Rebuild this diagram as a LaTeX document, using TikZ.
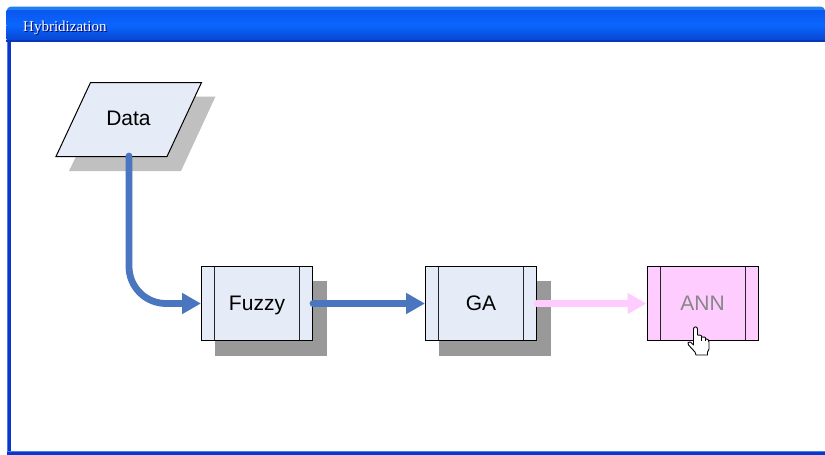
\documentclass[tikz,border=0pt]{standalone}
\usepackage{fontspec}
\setmainfont{Liberation Sans}
\newfontfamily\titlefont{Liberation Serif}
\usetikzlibrary{arrows.meta}
\definecolor{boxfill}{HTML}{E6ECF7}
\definecolor{annfill}{HTML}{FFCCFF}
\definecolor{linkblue}{HTML}{4A76BF}
\definecolor{linkpink}{HTML}{FFCCFF}
\definecolor{shadedark}{HTML}{999999}
\definecolor{shadelight}{HTML}{C0C0C0}
\definecolor{barstrip}{HTML}{2080F0}
\definecolor{bartop}{HTML}{0A58EE}
\definecolor{barmid}{HTML}{0A66FF}
\definecolor{barlow}{HTML}{0848D4}
\definecolor{baredge}{HTML}{0838B8}
\definecolor{frameblue}{HTML}{0A36CC}
\definecolor{frameedge}{HTML}{4A7CF0}
\tikzset{
  x=1pt,y=-1pt,
  procbox/.style={draw=black,line width=1pt,fill=#1,minimum width=111pt,minimum height=74pt,inner sep=0pt,
    text height=15pt,text depth=2pt,
    font=\fontsize{21}{24}\selectfont,
    path picture={
      \draw[line width=1pt,black!85]
        ([xshift=13pt]path picture bounding box.north west)--([xshift=13pt]path picture bounding box.south west)
        ([xshift=-13pt]path picture bounding box.north east)--([xshift=-13pt]path picture bounding box.south east);}},
  boxshadow/.style={fill=shadedark,draw=none},
  link/.style={line width=6.8pt,#1,line cap=round,-{Triangle[length=19pt,width=20pt]}},
  handline/.style={draw=black,line width=.9pt,line join=round}
}
\begin{document}
\begin{tikzpicture}
\useasboundingbox (0,0) rectangle (825,455);
\fill[white] (0,0) rectangle (825,455);
% window frame
\fill[frameblue] (6.7,40) rectangle (10.8,455);
\fill[frameedge] (6.7,40) rectangle (7.5,455);
\fill[frameblue] (6.7,451) rectangle (825,455);
\fill[frameedge] (7,451) rectangle (825,451.6);
% title bar
\fill[barstrip,rounded corners=4pt] (6.7,20) -- (6.7,6.7) -- (825,6.7) -- (825,20) -- cycle;
\fill[top color=bartop,bottom color=barmid] (6.7,10.5) rectangle (825,25);
\fill[top color=barmid,bottom color=barlow] (6.7,25) rectangle (825,39.5);
\fill[baredge] (6.2,39.5) rectangle (825,41.7);
\node[anchor=west,inner sep=0pt,text=black!60!blue,font=\titlefont\fontsize{15}{17}\selectfont] at (24,29) {Hybridization};
\node[anchor=west,inner sep=0pt,text=white,font=\titlefont\fontsize{15}{17}\selectfont] (title) at (23,28) {Hybridization};
% shadows
\fill[shadelight] (105,96.5) -- (215.5,96.5) -- (181,171) -- (69,171) -- cycle;
\fill[boxshadow] (215,281) rectangle (327,355.5);
\fill[boxshadow] (439,281) rectangle (551,355.5);
% data
\draw[fill=boxfill,line width=1pt,line join=miter] (90.5,82.5) -- (201.5,82.5) -- (167,156.5) -- (56,156.5) -- cycle;
\node[font=\fontsize{21}{24}\selectfont,inner sep=0pt] (data) at (128.5,118.3) {Data};
\coordinate (datafoot) at (129,156);
% process boxes
\node[procbox=boxfill] (fuzzy) at (257,303.5) {Fuzzy};
\node[procbox=boxfill] (ga) at (481,303.5) {GA};
\node[procbox=annfill,text=black!47] (ann) at (702.5,303.5) {ANN};
% connectors
\draw[link=linkblue,rounded corners=37pt] (datafoot) -- (datafoot |- fuzzy.west) -- (fuzzy.west);
\draw[link=linkblue] (fuzzy.east) -- (ga.west);
\draw[link=linkpink] (ga.east) -- (ann.west);
% hand cursor
\draw[handline,fill=white] (693.5,329) .. controls (693.5,326.2) and (697.5,326.2) .. (697.5,329)
  -- (697.5,335) -- (701,335.3) -- (702,337) -- (705,337.2) -- (706,339) -- (708,339.4)
  -- (709,342) -- (709,349) -- (707.5,352) -- (707.5,355) -- (696,355) -- (695,352)
  -- (688.5,345) -- (688,342.5) -- (690.5,342) -- (693.5,345) -- cycle;
\draw[line width=.6pt] (701,336) -- (701,341) (705,338) -- (705,341);
\end{tikzpicture}
\end{document}
